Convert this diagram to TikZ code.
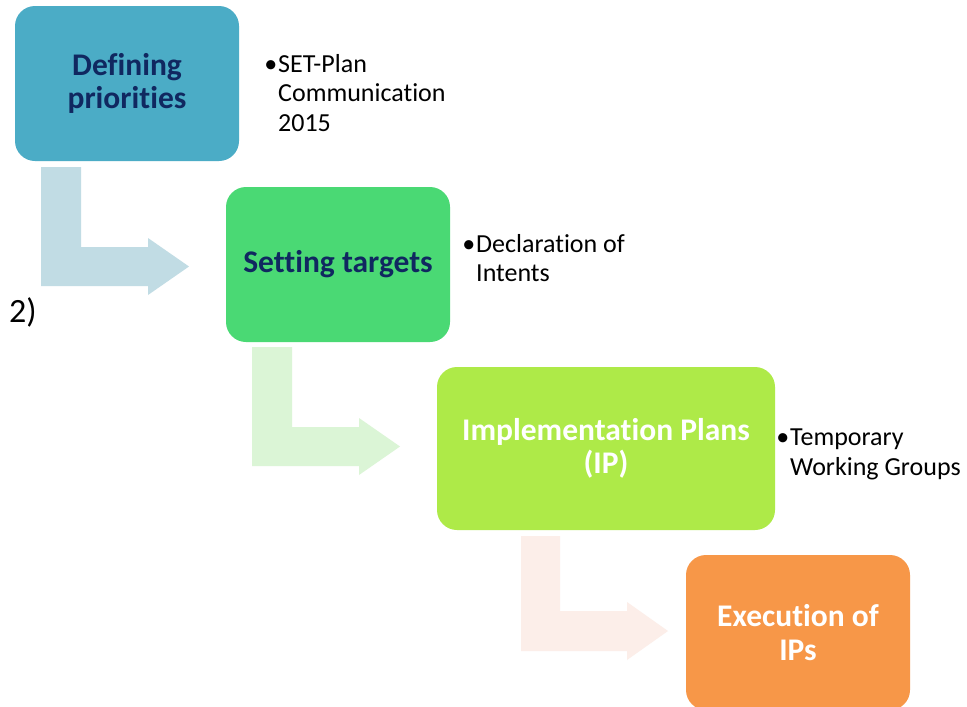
\documentclass[tikz,border=0pt]{standalone}
\usepackage{fontspec}
\setmainfont{Carlito}[Ligatures={NoCommon,NoContextual}]
\definecolor{c1}{RGB}{75,172,198}
\definecolor{c2}{RGB}{74,217,116}
\definecolor{c3}{RGB}{174,234,72}
\definecolor{c4}{RGB}{247,151,72}
\definecolor{a1}{RGB}{193,220,228}
\definecolor{a2}{RGB}{219,245,214}
\definecolor{a3}{RGB}{252,238,233}
\definecolor{navy}{RGB}{16,40,96}
\begin{document}
\begin{tikzpicture}[x=1pt,y=-1pt,
  box/.style={rounded corners=20pt, minimum width=224pt, minimum height=155pt, inner sep=0pt, align=center, font=\fontsize{31.5}{33.5}\selectfont\bfseries},
  note/.style={anchor=north west, inner sep=0pt, align=left, font=\fontsize{26}{29.5}\selectfont},
  bentarrow/.style={draw=none}]
\useasboundingbox (0,0) rectangle (967,707);
\fill[white] (0,0) rectangle (967,707);
% bent arrows
\fill[a1] (41,167) -- (81,167) -- (81,247) -- (148,247) -- (148,238) -- (189,266.5) -- (148,295) -- (148,286) -- (41,286) -- cycle;
\fill[a2] (252,347) -- (292,347) -- (292,427) -- (359,427) -- (359,418) -- (400,446.5) -- (359,475) -- (359,466) -- (252,466) -- cycle;
\fill[a3] (521,536) -- (560,536) -- (560,611) -- (627,611) -- (627,602) -- (668,631) -- (627,660) -- (627,651) -- (521,651) -- cycle;
% boxes
\node[box, fill=c1, text=navy] (b1) at (127,83.5) {Defining\\priorities};
\node[box, fill=c2, text=navy] (b2) at (338,264.5) {Setting targets};
\node[box, fill=c3, text=white, minimum width=338pt, minimum height=163pt] (b3) at (606,448.5) {Implementation Plans\\(IP)};
\node[box, fill=c4, text=white] (b4) at (798,632.5) {Execution of\\IPs};
% notes
\node[note] (n1) at (278,54) {\llap{•\kern1pt}SET-Plan\\Communication\\2015};
\node[note] (n2) at (476,234) {\llap{•\kern1pt}Declaration of\\Intents};
\node[note] (n3) at (790,429) {\llap{•\kern1pt}Temporary\\Working Groups};
\node[anchor=base west, inner sep=0pt, font=\fontsize{34}{36}\selectfont] (lbl) at (9,322) {2)};
\end{tikzpicture}
\end{document}
